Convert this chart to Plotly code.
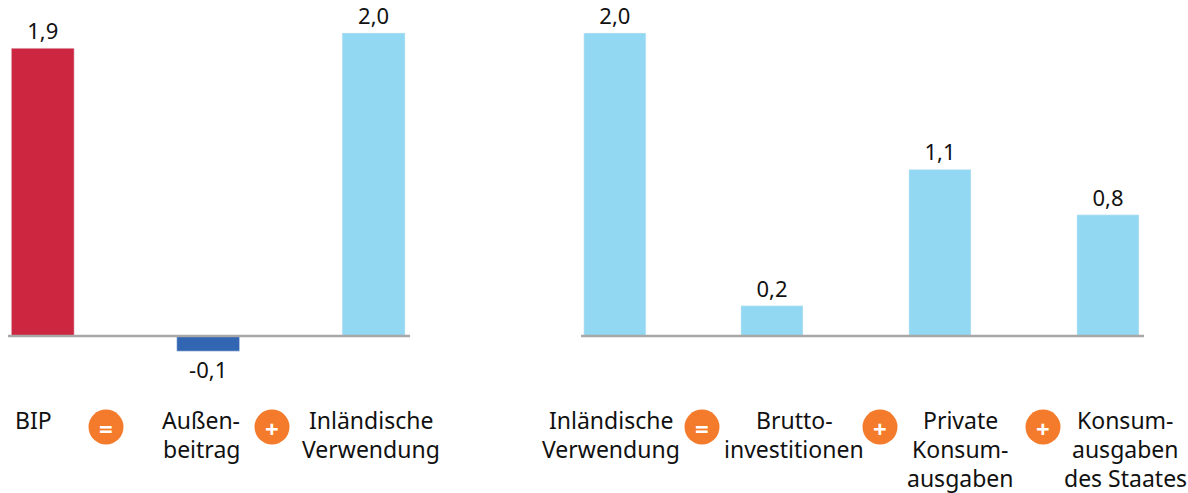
import plotly.graph_objects as go

FONT = "Noto Sans"
left_cats = ["BIP", "Außenbeitrag", "Inländische Verwendung"]
left_vals = [1.9, -0.1, 2.0]
left_text = ["1,9", "-0,1", "2,0"]
left_cols = ["#CD2640", "#3366B2", "#92D8F2"]
right_cats = ["Inländische Verwendung", "Bruttoinvestitionen", "Private Konsumausgaben", "Konsumausgaben des Staates"]
right_vals = [2.0, 0.2, 1.1, 0.8]
right_text = ["2,0", "0,2", "1,1", "0,8"]
RIGHT_COL = "#92D8F2"
ORANGE = "#F47B2B"
W, H = 1188, 493

labels = [
    (["BIP"], 33),
    (["Außen-", "beitrag"], 201),
    (["Inländische", "Verwendung"], 371),
    (["Inländische", "Verwendung"], 611),
    (["Brutto-", "investitionen"], 794),
    (["Private", "Konsum-", "ausgaben"], 960),
    (["Konsum-", "ausgaben", "des Staates"], 1125),
]
ops = [("=", 106), ("+", 272), ("=", 702), ("+", 880), ("+", 1043)]

fig = go.Figure()
fig.add_bar(x=left_cats, y=left_vals, marker_color=left_cols, text=left_text, width=0.38,
            textposition="outside", cliponaxis=False, xaxis="x", yaxis="y",
            textfont=dict(family=FONT, size=22, color="#111"))
fig.add_bar(x=right_cats, y=right_vals, marker_color=RIGHT_COL, text=right_text, width=0.369,
            offset=[-0.12, -0.185, -0.185, -0.185],
            textposition="outside", cliponaxis=False, xaxis="x2", yaxis="y2",
            textfont=dict(family=FONT, size=22, color="#111"))

yrange = [-1.036, 2.218]
hidden = dict(showticklabels=False, showgrid=False, zeroline=False, showline=False, ticks="", fixedrange=True)
shapes = [dict(type="line", xref=xr + " domain", yref=yr, x0=0, x1=1, y0=0, y1=0,
               line=dict(color="#A8A8A8", width=2.5), layer="above") for xr, yr in (("x", "y"), ("x2", "y2"))]
annos = []
for lines, cx in labels:
    for i, t in enumerate(lines):
        annos.append(dict(text=t, x=cx / W, y=1 - (420 + 29 * i) / H, xref="paper", yref="paper",
                          xanchor="center", yanchor="middle", showarrow=False, align="center",
                          font=dict(family=FONT, size=23, color="#111")))
for sym, cx in ops:
    shapes.append(dict(type="circle", xref="paper", yref="paper", x0=(cx - 17.5) / W, x1=(cx + 17.5) / W,
                       y0=1 - (427 + 17.5) / H, y1=1 - (427 - 17.5) / H, fillcolor=ORANGE, line_width=0))
    annos.append(dict(text="<b>%s</b>" % sym, x=cx / W, y=1 - 428 / H, xref="paper", yref="paper", xanchor="center",
                      yanchor="middle", showarrow=False, font=dict(family=FONT, size=24, color="white")))

fig.update_layout(
    width=W, height=H, margin=dict(l=0, r=0, t=0, b=0), showlegend=False, barmode="overlay",
    paper_bgcolor="white", plot_bgcolor="white",
    xaxis=dict(domain=[8 / W, 410 / W], range=[-0.21, 2.22], **hidden),
    yaxis=dict(domain=[0, 1], range=yrange, **hidden),
    xaxis2=dict(domain=[581 / W, 1144 / W], range=[-0.137, 3.214], anchor="y2", **hidden),
    yaxis2=dict(domain=[0, 1], range=yrange, anchor="x2", **hidden),
    shapes=shapes, annotations=annos,
)
fig.write_html("out.html", config={"displayModeBar": False},
               post_script="document.body.style.margin='0';")
